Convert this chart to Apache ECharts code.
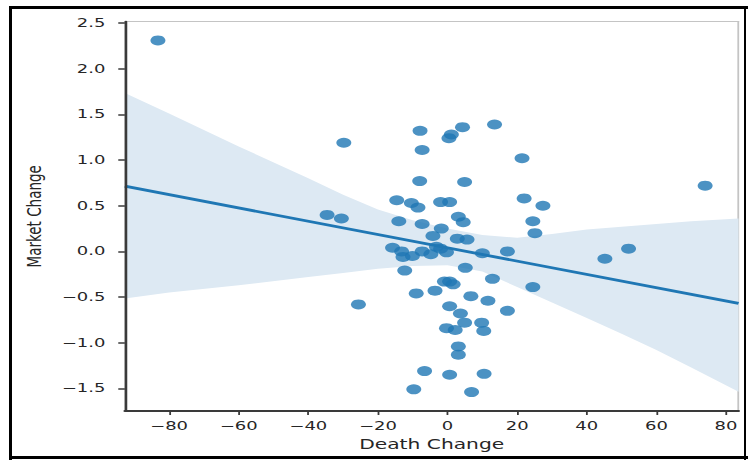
<!DOCTYPE html>
<html>
<head>
<meta charset="utf-8">
<script src="https://cdn.jsdelivr.net/npm/echarts@6/dist/echarts.min.js"></script>
<style>
  html, body { margin: 0; padding: 0; background: #fff; width: 748px; height: 460px; overflow: hidden; }
  #wrap { position: relative; width: 748px; height: 460px; }
  #chart { position: absolute; left: 0; top: 0; width: 499px; height: 460px; transform: scaleX(1.499); transform-origin: 0 0; }
  .fr { position: absolute; background: #000; }
</style>
</head>
<body>
<div id="wrap">
  <div id="chart"></div>
  <div class="fr" style="left:9px; top:6px; width:739px; height:3px;"></div>
  <div class="fr" style="left:9px; top:6px; width:3px; height:454px;"></div>
  <div class="fr" style="left:9px; top:456px; width:739px; height:3px;"></div>
  <div class="fr" style="left:744px; top:6px; width:2px; height:454px;"></div>
</div>
<script>
// Scatter points
const deathChange = [-83.2, -29.8, -34.6, -30.5, -25.6, -7.9, 4.3, 1.1, 0.4, 13.5,
  -7.3, 21.4, -8.0, 4.9, 74.0, -14.6, -10.4, -8.5, -2.0, 0.6,
  22.0, 27.4, -14.0, -7.3, -1.8, 3.1, 4.5, 24.5, 25.1, 17.2,
  45.2, 52.0, 12.9, 24.5, -4.2, 2.8, 5.6, -15.8, -13.2, -12.8,
  -10.1, -7.3, -4.8, -3.2, -2.0, -0.3, 10.0, -12.3, 5.1, -0.9,
  0.6, 1.6, -9.0, -3.6, 6.7, 11.6, 17.2, 0.6, 3.7, 4.9,
  9.8, 10.4, -0.3, 2.2, 3.1, 3.1, -6.6, 0.6, 10.5, -9.7, 6.9];
const marketChange = [2.31, 1.19, 0.40, 0.36, -0.58, 1.32, 1.36, 1.28, 1.24, 1.39,
  1.11, 1.02, 0.77, 0.76, 0.72, 0.56, 0.53, 0.48, 0.54, 0.54,
  0.58, 0.50, 0.33, 0.30, 0.25, 0.38, 0.32, 0.33, 0.20, 0.00,
  -0.08, 0.03, -0.30, -0.39, 0.17, 0.14, 0.13, 0.04, 0.00, -0.06,
  -0.05, 0.00, -0.03, 0.05, 0.03, -0.01, -0.02, -0.21, -0.18, -0.33,
  -0.33, -0.36, -0.46, -0.43, -0.49, -0.54, -0.65, -0.60, -0.68, -0.78,
  -0.78, -0.87, -0.84, -0.86, -1.04, -1.13, -1.31, -1.35, -1.34, -1.51, -1.54];

// Regression line (endpoints read at the axis limits)
const fitX = [-92.7, 83.6];
const fitY = [0.714, -0.569];

// Confidence band
const bandX     = [-92.7, -80, -60, -40, -30, -20, -10, 0, 10, 20, 30, 40, 50, 60, 70, 83.6];
const bandUpper = [1.735, 1.51, 1.15, 0.80, 0.62, 0.46, 0.34, 0.25, 0.18, 0.15, 0.19, 0.24, 0.27, 0.30, 0.33, 0.361];
const bandLower = [-0.514, -0.45, -0.37, -0.28, -0.235, -0.19, -0.16, -0.15, -0.22, -0.39, -0.56, -0.73, -0.90, -1.08, -1.27, -1.536];

// Ticks
const xTicks = [-80, -60, -40, -20, 0, 20, 40, 60, 80];
const yTicks = [-1.5, -1.0, -0.5, 0.0, 0.5, 1.0, 1.5, 2.0, 2.5];

const xMin = -92.7, xMax = 83.6, yMin = -1.747, yMax = 2.515;

const minus = s => s.replace('-', '\u2212');
const font = 'DejaVu Sans';
const ink = '#262626';
const spineDark = '#3a3a3a';
const spineLight = '#c4c4c4';

const chart = echarts.init(document.getElementById('chart'), null, { renderer: 'svg' });
chart.setOption({
  animation: false,
  grid: { left: 83.3, right: 6.3, top: 21.7, bottom: 49 },
  xAxis: [{
    type: 'value', min: xMin, max: xMax, position: 'bottom',
    name: 'Death Change', nameLocation: 'middle', nameGap: 23,
    nameTextStyle: { fontFamily: font, fontSize: 13.5, color: ink },
    axisLine: { show: true, onZero: false, lineStyle: { color: spineDark, width: 2 } },
    axisTick: { show: true, length: 4, customValues: xTicks, lineStyle: { color: spineDark, width: 1.2 } },
    axisLabel: { customValues: xTicks, margin: 9, fontFamily: font, fontSize: 12, color: ink,
      formatter: v => minus(String(v)) },
    splitLine: { show: false }, z: 10
  }, {
    type: 'value', min: xMin, max: xMax, position: 'top',
    axisLine: { show: true, onZero: false, lineStyle: { color: spineLight, width: 1.2 } },
    axisTick: { show: false }, axisLabel: { show: false }, splitLine: { show: false }
  }],
  yAxis: [{
    type: 'value', min: yMin, max: yMax, position: 'left',
    name: 'Market Change', nameLocation: 'middle', nameGap: 54,
    nameTextStyle: { fontFamily: font, fontSize: 13.5, color: ink },
    axisLine: { show: true, onZero: false, lineStyle: { color: spineDark, width: 1.8 } },
    axisTick: { show: true, length: 4.4, customValues: yTicks, lineStyle: { color: spineDark, width: 1.5 } },
    axisLabel: { customValues: yTicks, margin: 13, fontFamily: font, fontSize: 12, color: ink,
      formatter: v => minus(v.toFixed(1)) },
    splitLine: { show: false }, z: 10
  }, {
    type: 'value', min: yMin, max: yMax, position: 'right',
    axisLine: { show: true, onZero: false, lineStyle: { color: spineLight, width: 1.2 } },
    axisTick: { show: false }, axisLabel: { show: false }, splitLine: { show: false }
  }],
  series: [
    {
      type: 'custom', silent: true, z: 1, clip: true,
      data: [[0, 0]],
      renderItem: (params, api) => {
        const pts = [];
        for (let i = 0; i < bandX.length; i++) pts.push(api.coord([bandX[i], bandUpper[i]]));
        for (let i = bandX.length - 1; i >= 0; i--) pts.push(api.coord([bandX[i], bandLower[i]]));
        return { type: 'polygon', shape: { points: pts }, style: { fill: '#dde9f3' } };
      }
    },
    {
      type: 'scatter', z: 3,
      data: deathChange.map((x, i) => [x, marketChange[i]]),
      symbol: 'circle', symbolSize: 10,
      itemStyle: { color: '#1f77b4', opacity: 0.8 }
    },
    {
      type: 'line', z: 4,
      data: fitX.map((x, i) => [x, fitY[i]]),
      showSymbol: false,
      lineStyle: { color: '#1f77b4', width: 2.8 }
    }
  ]
});
</script>
</body>
</html>
